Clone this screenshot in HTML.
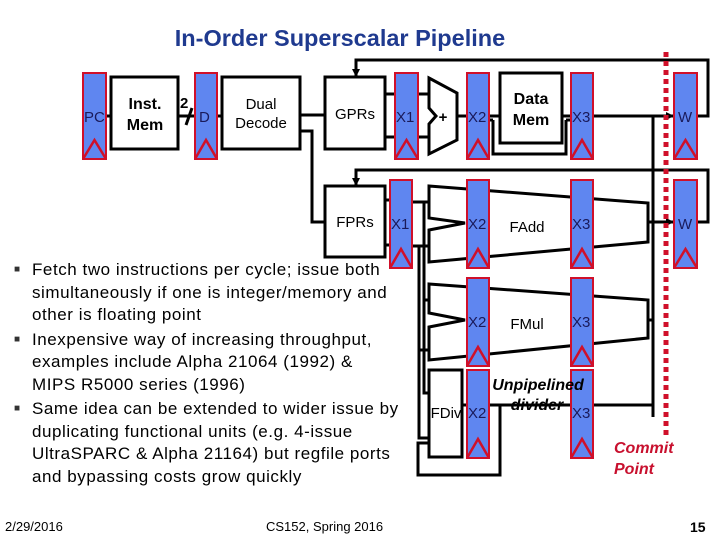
<!DOCTYPE html>
<html><head><meta charset="utf-8"><style>
body{margin:0;width:720px;height:540px;background:#fff;overflow:hidden;position:relative;font-family:"Liberation Sans",sans-serif}
.t{position:absolute}
ul{position:absolute;left:12px;top:259px;margin:0;padding:0;list-style:none;font-size:17px;line-height:22.5px;color:#000;white-space:nowrap;letter-spacing:0.55px}
ul li{position:relative;padding-left:20px;margin-bottom:2px}
ul li:before{content:"\25A0";position:absolute;left:2px;top:0;font-size:10px;color:#333}
</style></head><body>
<div class="t" style="left:0;width:680px;top:25px;text-align:center;font-size:23.5px;font-weight:bold;color:#1f3a8f">In-Order Superscalar Pipeline</div>
<svg width="720" height="540" style="position:absolute;left:0;top:0" font-family="Liberation Sans, sans-serif">
<defs><marker id="a" markerUnits="userSpaceOnUse" markerWidth="8" markerHeight="8" refX="7" refY="4" orient="auto"><path d="M0,0L8,4L0,8z" fill="#000"/></marker></defs>
<g stroke="#000" stroke-width="3" fill="none">
<rect x="111" y="77" width="67" height="72" fill="#fff"/>
<rect x="222" y="77" width="78" height="72" fill="#fff"/>
<rect x="325" y="77" width="60" height="72" fill="#fff"/>
<rect x="325" y="186" width="60" height="71" fill="#fff"/>
<rect x="500" y="73" width="62" height="70" fill="#fff"/>
<path d="M493,120V154H566V120"/>
<polygon points="429,78 457,93 457,140 429,154 429,124 436,116 429,108" fill="#fff"/>
<polygon points="429,186 648,203 648,242 429,262 429,230 465,223 429,218" fill="#fff"/>
<polygon points="429,284 648,300 648,338 429,360 429,327 465,320 429,313" fill="#fff"/>
<rect x="429" y="370" width="33" height="87" fill="#fff"/>
<path d="M106,116H111M178,116H195M217,116H222"/>
<path d="M300,115H325M300,131H312V222H325"/>
<path d="M385,94H395M385,137H395M418,94H429M418,137H429M457,116H467M489,116H500M489,120H493M562,116H571M566,120H571"/>
<path d="M593,116H673" marker-end="url(#a)"/>
<path d="M697,116H708V60H356V76" marker-end="url(#a)"/>
<path d="M648,222H673" marker-end="url(#a)"/>
<path d="M697,222H708V170H356V185" marker-end="url(#a)"/>
<path d="M653,116V417M648,320H653M593,405H653"/>
<path d="M385,200H390M385,245H390"/>
<path d="M412,202H429M424,202V393H429M412,246H429M419,246V438H429M419,350H429M424,300H429"/>
<path d="M429,443H418V475H500V405H489"/>
<path d="M462,405H467M489,405H571"/>
</g>
<path d="M186,125L192,108" stroke="#000" stroke-width="3"/>
<text x="180" y="108" font-size="15" font-weight="bold">2</text>
<g fill="#5f86f0" stroke="#d0102a" stroke-width="2">
<rect x="83" y="73" width="23" height="86"/><rect x="195" y="73" width="22" height="86"/>
<rect x="395" y="73" width="23" height="86"/><rect x="467" y="73" width="22" height="86"/>
<rect x="571" y="73" width="22" height="86"/><rect x="674" y="73" width="23" height="86"/>
<rect x="390" y="180" width="22" height="88"/><rect x="467" y="180" width="22" height="88"/>
<rect x="571" y="180" width="22" height="88"/><rect x="674" y="180" width="23" height="88"/>
<rect x="467" y="278" width="22" height="88"/><rect x="571" y="278" width="22" height="88"/>
<rect x="467" y="370" width="22" height="88"/><rect x="571" y="370" width="22" height="88"/>
</g>
<g fill="none" stroke="#d0102a" stroke-width="2.5">
<path d="M83,159L94.5,140L106,159M195,159L206,140L217,159M395,159L406.5,140L418,159M467,159L478,140L489,159M571,159L582,140L593,159M674,159L685.5,140L697,159"/>
<path d="M390,268L401,249L412,268M467,268L478,249L489,268M571,268L582,249L593,268M674,268L685.5,249L697,268"/>
<path d="M467,366L478,347L489,366M571,366L582,347L593,366M467,458L478,439L489,458M571,458L582,439L593,458"/>
</g>
<g font-size="15" fill="#1a1a5a">
<text x="84" y="122">PC</text><text x="199" y="122">D</text><text x="396" y="122">X1</text><text x="468" y="122">X2</text><text x="572" y="122">X3</text><text x="678" y="122">W</text>
<text x="391" y="229">X1</text><text x="468" y="229">X2</text><text x="572" y="229">X3</text><text x="678" y="229">W</text>
<text x="468" y="327">X2</text><text x="572" y="327">X3</text><text x="468" y="418">X2</text><text x="572" y="418">X3</text>
</g>
<g font-size="15" fill="#000" text-anchor="middle">
<text x="145" y="109" font-weight="bold" font-size="16">Inst.</text><text x="145" y="130" font-weight="bold" font-size="16">Mem</text>
<text x="261" y="109">Dual</text><text x="261" y="128">Decode</text>
<text x="355" y="119">GPRs</text><text x="355" y="227">FPRs</text>
<text x="531" y="104" font-weight="bold" font-size="16">Data</text><text x="531" y="125" font-weight="bold" font-size="16">Mem</text>
<text x="443" y="122" font-weight="bold">+</text>
<text x="527" y="232">FAdd</text><text x="527" y="329">FMul</text>
<text x="446" y="418">FDiv</text>
<text x="538" y="390" font-style="italic" font-weight="bold" font-size="16">Unpipelined</text>
<text x="537" y="410" font-style="italic" font-weight="bold" font-size="16">divider</text>
</g>
<line x1="666" y1="52" x2="666" y2="435" stroke="#d0102a" stroke-width="5" stroke-dasharray="5,4"/>
<g fill="#c8102e" font-size="16" font-weight="bold" font-style="italic">
<text x="614" y="453">Commit</text><text x="614" y="474">Point</text>
</g>
</svg>
<ul>
<li>Fetch two instructions per cycle; issue both<br>simultaneously if one is integer/memory and<br>other is floating point</li>
<li>Inexpensive way of increasing throughput,<br>examples include Alpha 21064 (1992) &amp;<br>MIPS R5000 series (1996)</li>
<li>Same idea can be extended to wider issue by<br>duplicating functional units (e.g. 4-issue<br>UltraSPARC &amp; Alpha 21164) but regfile ports<br>and bypassing costs grow quickly</li>
</ul>
<div class="t" style="left:5px;top:519px;font-size:13px">2/29/2016</div>
<div class="t" style="left:266px;top:519px;font-size:13px">CS152, Spring 2016</div>
<div class="t" style="left:690px;top:519px;font-size:14px;font-weight:bold">15</div>
</body></html>
